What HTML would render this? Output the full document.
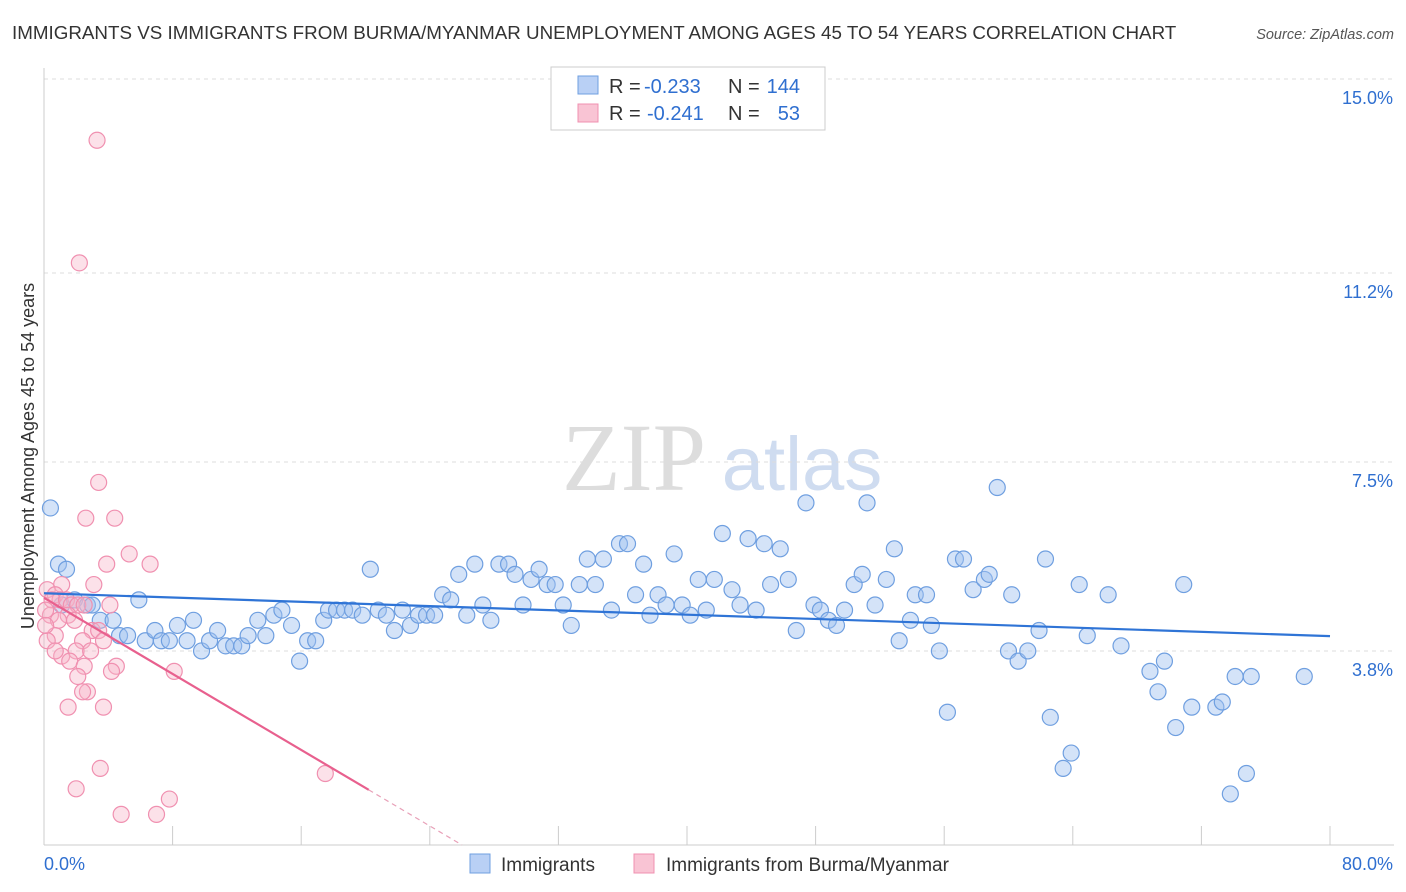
<!DOCTYPE html>
<html><head><meta charset="utf-8">
<style>
body{margin:0;background:#fff;font-family:"Liberation Sans",sans-serif;}
svg{display:block}
</style></head>
<body>
<svg id="chart" width="1406" height="892" viewBox="0 0 1406 892">
<text x="12" y="39" font-size="18.8" fill="#333">IMMIGRANTS VS IMMIGRANTS FROM BURMA/MYANMAR UNEMPLOYMENT AMONG AGES 45 TO 54 YEARS CORRELATION CHART</text>
<text x="1394" y="39" font-size="14.5" fill="#555" font-style="italic" text-anchor="end">Source: ZipAtlas.com</text>
<g>
<text x="634" y="490" font-family="Liberation Serif,serif" font-size="96" fill="#ddd" text-anchor="middle">ZIP</text>
<text x="802" y="490" font-size="76" fill="#cfdcf0" text-anchor="middle">atlas</text>
</g>
<g id="grid"></g>
<g id="axes"></g>
<g id="marks"></g>
<g>
<rect x="551" y="67" width="274" height="63" fill="#fff" stroke="#ccc"/>
<rect x="578" y="76" width="20" height="18" fill="#b9d0f5" stroke="#6f9fe0"/>
<rect x="578" y="104" width="20" height="18" fill="#f9c4d4" stroke="#f090b0"/>
<text x="609" y="93" font-size="20" fill="#333">R =</text>
<text x="644" y="93" font-size="20" fill="#2f6fd0">-0.233</text>
<text x="728" y="93" font-size="20" fill="#333">N =</text>
<text x="800" y="93" font-size="20" fill="#2f6fd0" text-anchor="end">144</text>
<text x="609" y="120" font-size="20" fill="#333">R =</text>
<text x="647" y="120" font-size="20" fill="#2f6fd0">-0.241</text>
<text x="728" y="120" font-size="20" fill="#333">N =</text>
<text x="800" y="120" font-size="20" fill="#2f6fd0" text-anchor="end">53</text>
</g>
<g>
<rect x="470" y="854" width="20" height="19" fill="#b9d0f5" stroke="#6f9fe0"/>
<text x="501" y="871" font-size="19" fill="#333">Immigrants</text>
<rect x="634" y="854" width="20" height="19" fill="#f9c4d4" stroke="#f090b0"/>
<text x="666" y="871" font-size="19" fill="#333">Immigrants from Burma/Myanmar</text>
</g>
<text transform="translate(34,456) rotate(-90)" font-size="18" fill="#333" text-anchor="middle">Unemployment Among Ages 45 to 54 years</text>
</svg>
<script>
const yTicks=[3.8,7.5,11.2,15.0];
const yTickLabels=["3.8%","7.5%","11.2%","15.0%"];
const xTicks=[0,8,16,24,32,40,48,56,64,72,80];
const blueX=[0.4,0.9,1.4,1.1,1.9,2.7,3.0,3.5,4.3,4.7,5.2,5.9,6.3,6.9,7.3,7.8,8.3,8.9,9.3,9.8,10.3,10.8,11.3,11.8,12.3,12.7,13.3,13.8,14.3,14.8,15.4,15.9,16.4,16.9,17.4,17.7,18.2,18.7,19.2,19.8,20.3,20.8,21.3,21.8,22.3,22.8,23.3,23.8,24.3,24.8,25.3,25.8,26.3,26.8,27.3,27.8,28.3,28.9,29.3,29.8,30.3,30.8,31.3,31.8,32.3,32.8,33.3,33.8,34.3,34.8,35.3,35.8,36.3,36.8,37.3,37.7,38.2,38.7,39.2,39.7,40.2,40.7,41.2,41.7,42.2,42.8,43.3,43.8,44.3,44.8,45.2,45.8,46.3,46.8,47.4,47.9,48.3,48.8,49.3,49.8,50.4,50.9,51.2,51.7,52.4,52.9,53.2,53.9,54.2,54.9,55.2,55.7,56.2,56.7,57.2,57.8,58.5,58.8,59.3,60.2,60.0,60.6,61.2,61.9,62.3,62.6,63.4,63.9,64.4,64.9,66.2,67.0,68.8,69.3,69.7,70.4,70.9,71.4,72.9,73.3,73.8,74.1,74.8,75.1,78.4];
const blueY=[6.6,5.5,5.4,4.7,4.8,4.7,4.7,4.4,4.4,4.1,4.1,4.8,4.0,4.2,4.0,4.0,4.3,4.0,4.4,3.8,4.0,4.2,3.9,3.9,3.9,4.1,4.4,4.1,4.5,4.6,4.3,3.6,4.0,4.0,4.4,4.6,4.6,4.6,4.6,4.5,5.4,4.6,4.5,4.2,4.6,4.3,4.5,4.5,4.5,4.9,4.8,5.3,4.5,5.5,4.7,4.4,5.5,5.5,5.3,4.7,5.2,5.4,5.1,5.1,4.7,4.3,5.1,5.6,5.1,5.6,4.6,5.9,5.9,4.9,5.5,4.5,4.9,4.7,5.7,4.7,4.5,5.2,4.6,5.2,6.1,5.0,4.7,6.0,4.6,5.9,5.1,5.8,5.2,4.2,6.7,4.7,4.6,4.4,4.3,4.6,5.1,5.3,6.7,4.7,5.2,5.8,4.0,4.4,4.9,4.9,4.3,3.8,2.6,5.6,5.6,5.0,5.2,5.3,7.0,4.9,3.8,3.6,3.8,4.2,5.6,2.5,1.5,1.8,5.1,4.1,4.9,3.9,3.4,3.0,3.6,2.3,5.1,2.7,2.7,2.8,1.0,3.3,1.4,3.3,3.3];
const pinkX=[3.3,2.2,3.4,2.6,4.4,5.3,6.6,3.9,1.1,3.1,0.2,0.7,1.0,0.5,1.4,1.7,2.1,2.5,1.5,0.4,0.9,1.9,3.0,3.4,2.4,0.7,0.2,3.7,2.0,2.9,1.1,1.6,2.5,4.5,4.2,2.1,8.1,2.7,2.4,1.5,3.7,3.5,2.0,7.8,4.8,7.0,17.5,0.7,4.1,0.1,0.1];
const pinkY=[13.8,11.4,7.1,6.4,6.4,5.7,5.5,5.5,5.1,5.1,5.0,4.9,4.8,4.8,4.8,4.7,4.7,4.7,4.5,4.5,4.4,4.4,4.2,4.2,4.0,4.1,4.0,4.0,3.8,3.8,3.7,3.6,3.5,3.5,3.4,3.3,3.4,3.0,3.0,2.7,2.7,1.5,1.1,0.9,0.6,0.6,1.4,3.8,4.7,4.6,4.3];
const blueTrend=[4.93,4.09];
const pinkTrend=[4.84,1.08,20.2,26.0];
const NS="http://www.w3.org/2000/svg";
const X0=44,X1=1330,Y0=845,YTOP=79;
const xs=v=>X0+(X1-X0)*v/80;
const ys=v=>Y0-(Y0-YTOP)*v/15;
function mk(tag,attrs,parent){const e=document.createElementNS(NS,tag);for(const k in attrs)e.setAttribute(k,attrs[k]);parent.appendChild(e);return e;}
const grid=document.getElementById('grid'),axes=document.getElementById('axes'),marks=document.getElementById('marks');
yTicks.forEach((t,i)=>{
 const l=mk('line',{x1:X0,x2:1394,y1:ys(t),y2:ys(t),stroke:'#ddd','stroke-dasharray':'4,4'},grid);
 
 
 const tx=mk('text',{x:1393,y:ys(t)+25,'font-size':18,fill:'#2f6fd0','text-anchor':'end'},axes);
 tx.textContent=yTickLabels[i];
 
 
});
const ax=mk('line',{x1:X0,x2:X0,y1:68,y2:Y0,stroke:'#ccc'},axes);


const bx=mk('line',{x1:X0,x2:1394,y1:Y0,y2:Y0,stroke:'#ccc'},axes);


xTicks.forEach(t=>{
 const l=mk('line',{x1:xs(t),x2:xs(t),y1:826,y2:Y0,stroke:'#ccc'},axes);
 
 
});
const xl0=mk('text',{x:44,y:870,'font-size':18,fill:'#2f6fd0'},axes);xl0.textContent='0.0%';


const xl1=mk('text',{x:1393,y:870,'font-size':18,fill:'#2f6fd0','text-anchor':'end'},axes);xl1.textContent='80.0%';


blueX.forEach((v,i)=>{
 const c=mk('circle',{cx:xs(v),cy:ys(blueY[i]),r:8,fill:'rgba(160,192,240,0.45)',stroke:'#6f9fe0','stroke-width':1.2},marks);
 
 
});
pinkX.forEach((v,i)=>{
 const c=mk('circle',{cx:xs(v),cy:ys(pinkY[i]),r:8,fill:'rgba(248,180,200,0.4)',stroke:'#f090b0','stroke-width':1.2},marks);
 
 
});
const bl=mk('line',{x1:xs(0),y1:ys(blueTrend[0]),x2:xs(80),y2:ys(blueTrend[1]),stroke:'#2f74d6','stroke-width':2.2},marks);


const pl=mk('line',{x1:xs(0),y1:ys(pinkTrend[0]),x2:xs(pinkTrend[2]),y2:ys(pinkTrend[1]),stroke:'#e8608e','stroke-width':2.2},marks);


const slope=(pinkTrend[1]-pinkTrend[0])/pinkTrend[2];
const pd=mk('line',{x1:xs(pinkTrend[2]),y1:ys(pinkTrend[1]),x2:xs(pinkTrend[3]),y2:ys(Math.max(0,pinkTrend[0]+slope*pinkTrend[3])),stroke:'#e8a0b8','stroke-width':1.2,'stroke-dasharray':'5,4'},marks);


</script>
</body></html>
